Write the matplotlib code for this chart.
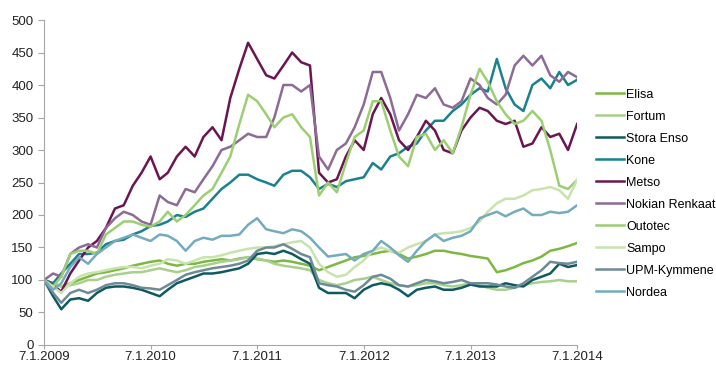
import matplotlib
matplotlib.use("Agg")
import matplotlib.pyplot as plt
import pandas as pd

# kuukausittaiset arvot 7.1.2009 -> 7.1.2014, indeksi 100 = 7.1.2009
dates = pd.date_range("2009-01-07", periods=61, freq=pd.DateOffset(months=1))

elisa = [100, 95, 90, 95, 100, 105, 110, 112, 115, 118, 122, 125, 128, 130, 125, 122,
         125, 125, 128, 130, 132, 130, 133, 135, 132, 130, 128, 130, 128, 125, 122, 115,
         120, 125, 130, 135, 137, 140, 143, 145, 140, 133, 136, 140, 145, 145, 142, 140,
         137, 135, 133, 112, 115, 120, 126, 130, 136, 145, 148, 152, 157]
fortum = [100, 95, 90, 92, 95, 100, 100, 105, 108, 110, 112, 112, 115, 118, 115, 112,
          115, 120, 122, 125, 128, 130, 132, 135, 133, 130, 125, 122, 120, 118, 115, 100,
          95, 92, 95, 100, 102, 105, 100, 95, 92, 90, 92, 95, 95, 92, 90, 92,
          95, 92, 88, 85, 85, 88, 92, 95, 97, 98, 100, 98, 98]
stora = [100, 75, 55, 70, 72, 68, 80, 88, 90, 90, 88, 85, 80, 75, 85, 95,
         100, 105, 110, 110, 112, 115, 118, 125, 140, 142, 140, 145, 140, 132, 125, 88,
         80, 80, 80, 72, 85, 92, 95, 92, 85, 75, 85, 88, 90, 85, 85, 88,
         93, 90, 90, 90, 95, 92, 90, 100, 105, 110, 125, 120, 123]
kone = [100, 95, 110, 125, 140, 140, 142, 155, 160, 162, 170, 175, 183, 185, 190, 200,
        197, 205, 210, 225, 240, 250, 262, 262, 255, 250, 245, 262, 268, 268, 258, 240,
        248, 243, 252, 255, 258, 280, 270, 290, 295, 305, 310, 330, 345, 345, 360, 370,
        385, 395, 390, 440, 395, 370, 360, 400, 410, 395, 420, 400, 408]
metso = [100, 92, 82, 110, 130, 150, 160, 180, 210, 215, 245, 265, 290, 255, 265, 290,
         305, 290, 320, 335, 315, 380, 425, 465, 440, 415, 410, 430, 450, 435, 430, 265,
         250, 255, 290, 315, 300, 355, 380, 355, 315, 300, 320, 345, 330, 300, 295, 330,
         350, 365, 360, 345, 340, 345, 305, 310, 335, 320, 325, 300, 340]
nokian = [100, 110, 105, 140, 150, 155, 150, 180, 195, 205, 200, 190, 185, 230, 220, 215,
          240, 235, 255, 275, 300, 305, 315, 325, 320, 320, 350, 400, 400, 390, 400, 290,
          270, 300, 310, 335, 370, 420, 420, 380, 330, 355, 385, 380, 395, 370, 365, 375,
          410, 400, 380, 370, 385, 430, 445, 430, 445, 415, 405, 420, 412]
outotec = [100, 90, 105, 140, 145, 145, 140, 170, 180, 190, 190, 185, 182, 190, 205, 190,
           200, 215, 230, 240, 265, 290, 340, 385, 375, 355, 335, 350, 355, 335, 320, 230,
           250, 235, 280, 320, 330, 375, 375, 330, 290, 275, 320, 325, 300, 315, 295, 335,
           385, 425, 405, 375, 355, 340, 345, 360, 345, 300, 245, 240, 254]
sampo = [100, 90, 80, 95, 105, 110, 112, 115, 118, 120, 120, 118, 122, 125, 132, 130,
         125, 130, 135, 135, 138, 142, 145, 148, 150, 150, 152, 155, 158, 160, 150, 125,
         112, 105, 108, 120, 130, 145, 150, 145, 142, 150, 155, 160, 170, 172, 173, 175,
         180, 190, 205, 218, 225, 225, 230, 238, 240, 243, 238, 225, 254]
upm = [100, 80, 65, 80, 85, 80, 85, 92, 95, 95, 92, 88, 87, 85, 92, 100,
       108, 112, 115, 118, 120, 122, 125, 130, 145, 150, 150, 155, 148, 140, 135, 95,
       92, 90, 85, 82, 92, 105, 108, 102, 92, 90, 95, 100, 98, 95, 97, 100,
       95, 95, 95, 93, 90, 88, 95, 105, 115, 128, 126, 125, 128]
nordea = [100, 85, 95, 120, 135, 125, 140, 150, 160, 165, 170, 165, 160, 170, 168, 160,
          145, 160, 165, 162, 168, 168, 170, 185, 195, 178, 175, 172, 178, 175, 165, 150,
          136, 138, 140, 130, 140, 145, 160, 150, 138, 128, 145, 160, 170, 160, 165, 168,
          175, 195, 200, 205, 198, 205, 210, 200, 200, 205, 203, 205, 215]

names = ["Elisa", "Fortum", "Stora Enso", "Kone", "Metso", "Nokian Renkaat",
         "Outotec", "Sampo", "UPM-Kymmene", "Nordea"]
series = [elisa, fortum, stora, kone, metso, nokian, outotec, sampo, upm, nordea]
colors = ["#7DB942", "#A8D08D", "#0E5A60", "#1B8090", "#6B1650", "#8C6B94",
          "#9CCF74", "#C8E3AE", "#6E8A96", "#74ABBD"]
tick_labels = ["7.1.2009", "7.1.2010", "7.1.2011", "7.1.2012", "7.1.2013", "7.1.2014"]

plt.rcParams["font.family"] = ["Liberation Sans", "DejaVu Sans"]
fig = plt.figure(figsize=(7.16, 3.65), dpi=100)
ax = fig.add_axes([0.0615, 0.0548, 0.7445, 0.8904])

for name, vals, c in zip(names, series, colors):
    ax.plot(dates, vals, color=c, linewidth=1.8, label=name)

ticks = pd.to_datetime(["2009-01-07", "2010-01-07", "2011-01-07",
                        "2012-01-07", "2013-01-07", "2014-01-07"])
ax.set_xlim(ticks[0], ticks[-1])
ax.set_xticks(ticks)
ax.set_xticklabels(tick_labels)
ax.set_ylim(0, 500)
ax.set_yticks(range(0, 501, 50))

for s in ["top", "right"]:
    ax.spines[s].set_visible(False)
for s in ["left", "bottom"]:
    ax.spines[s].set_color("#A6A6A6")
ax.tick_params(axis="both", colors="#A6A6A6", labelcolor="#222222",
               labelsize=9.5, length=4, width=0.8)
ax.tick_params(axis="x", length=3, pad=1.5)

ax.legend(loc="center left", bbox_to_anchor=(1.015, 0.465), frameon=False,
          fontsize=9, handlelength=2.2, handletextpad=0.2, labelspacing=0.8)

fig.savefig("out.png", dpi=100)
